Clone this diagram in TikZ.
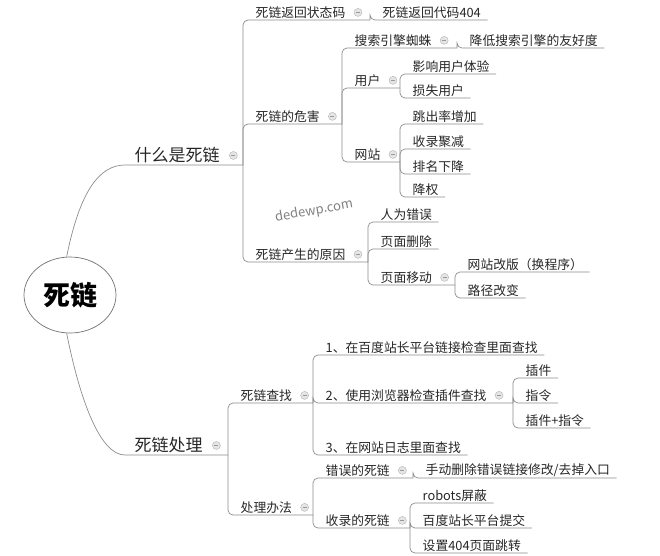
\documentclass[tikz,border=0pt]{standalone}
\usepackage{fontspec}
\setmainfont{Noto Sans CJK SC}
\usetikzlibrary{shapes.geometric}
\begin{document}
\begin{tikzpicture}[x=1pt,y=-1pt,
 lbl/.style={anchor=south west,inner sep=1.5pt,font=\fontsize{12.8}{14}\selectfont,text=black!85},
 big/.style={anchor=south west,inner sep=1.5pt,font=\fontsize{17}{18}\selectfont,text=black!85},
 br/.style={draw=black!45,line width=0.7pt,rounded corners=5pt},
 ic/.style={circle,draw=black!30,fill=blue!8!black!10,minimum size=8pt,inner sep=0pt,
   path picture={\draw[black!40,line width=0.8pt] ([xshift=-2pt]path picture bounding box.center) -- ++(4pt,0);}}]
\useasboundingbox (0,0) rectangle (660,555);
\newcommand\leaf[5]{\node[lbl] (#1) at (#2+11,#4) {#5};\draw[br] (#2,#3) |- ([xshift=5pt]#1.south east);}
\newcommand\inn[6]{\node[lbl] (#1) at (#2+11,#4) {#5};\node[ic] at ([xshift=11pt]#1.east) {};\draw[br] (#2,#3) |- (#6,#4);}
% root
\node[ellipse,draw=black!55,line width=0.7pt,minimum width=92pt,minimum height=76pt,font=\fontsize{27}{29}\selectfont\bfseries] (root) at (70,295) {死链};
\node[big] (a) at (133,165) {什么是死链};
\node[ic] at ([xshift=12pt]a.east) {};
\node[big] (b) at (133,455) {死链处理};
\node[ic] at ([xshift=12pt]b.east) {};
\draw[br] (root.95) .. controls (80,190) and (100,165) .. (130,165) -- (243,165);
\draw[br] (root.265) .. controls (80,400) and (100,455) .. (130,455) -- (228,455);
% watermark
\node[rotate=10,text=black!50,font=\fontsize{13}{15}\selectfont] (wm) at (314,211) {dedewp.com};
% 什么是死链
\inn{a1}{243}{165}{20}{死链返回状态码}{370}
\leaf{a11}{370}{20}{20}{死链返回代码404}
\inn{a2}{243}{165}{124}{死链的危害}{342}
\inn{a3}{243}{165}{262}{死链产生的原因}{368}
% 危害
\inn{b1}{342}{124}{48}{搜索引擎蜘蛛}{457}
\leaf{b11}{457}{48}{48}{降低搜索引擎的友好度}
\inn{b2}{342}{124}{88}{用户}{400}
\leaf{b21}{400}{88}{74}{影响用户体验}
\leaf{b22}{400}{88}{98}{损失用户}
\inn{b3}{342}{124}{162}{网站}{400}
\leaf{b31}{400}{162}{124}{跳出率增加}
\leaf{b32}{400}{162}{149}{收录聚减}
\leaf{b33}{400}{162}{174}{排名下降}
\leaf{b34}{400}{162}{197}{降权}
% 原因
\leaf{c1}{368}{262}{222}{人为错误}
\leaf{c2}{368}{262}{249}{页面删除}
\inn{c3}{368}{262}{285}{页面移动}{455}
\leaf{c31}{455}{285}{272}{网站改版（换程序）}
\leaf{c32}{455}{285}{298}{路径改变}
% 死链处理
\inn{d1}{228}{455}{403}{死链查找}{313}
\leaf{d11}{313}{403}{355}{1、在百度站长平台链接检查里面查找}
\inn{d12}{313}{403}{403}{2、使用浏览器检查插件查找}{513}
\leaf{d121}{513}{403}{378}{插件}
\leaf{d122}{513}{403}{403}{指令}
\leaf{d123}{513}{403}{428}{插件+指令}
\leaf{d13}{313}{403}{455}{3、在网站日志里面查找}
\inn{d2}{228}{455}{515}{处理办法}{313}
\inn{d21}{313}{515}{478}{错误的死链}{413}
\leaf{d211}{413}{478}{478}{手动删除错误链接修改/去掉入口}
\inn{d22}{313}{515}{528}{收录的死链}{410}
\leaf{d221}{410}{528}{503}{robots屏蔽}
\leaf{d222}{410}{528}{528}{百度站长平台提交}
\leaf{d223}{410}{528}{553}{设置404页面跳转}
\end{tikzpicture}
\end{document}
